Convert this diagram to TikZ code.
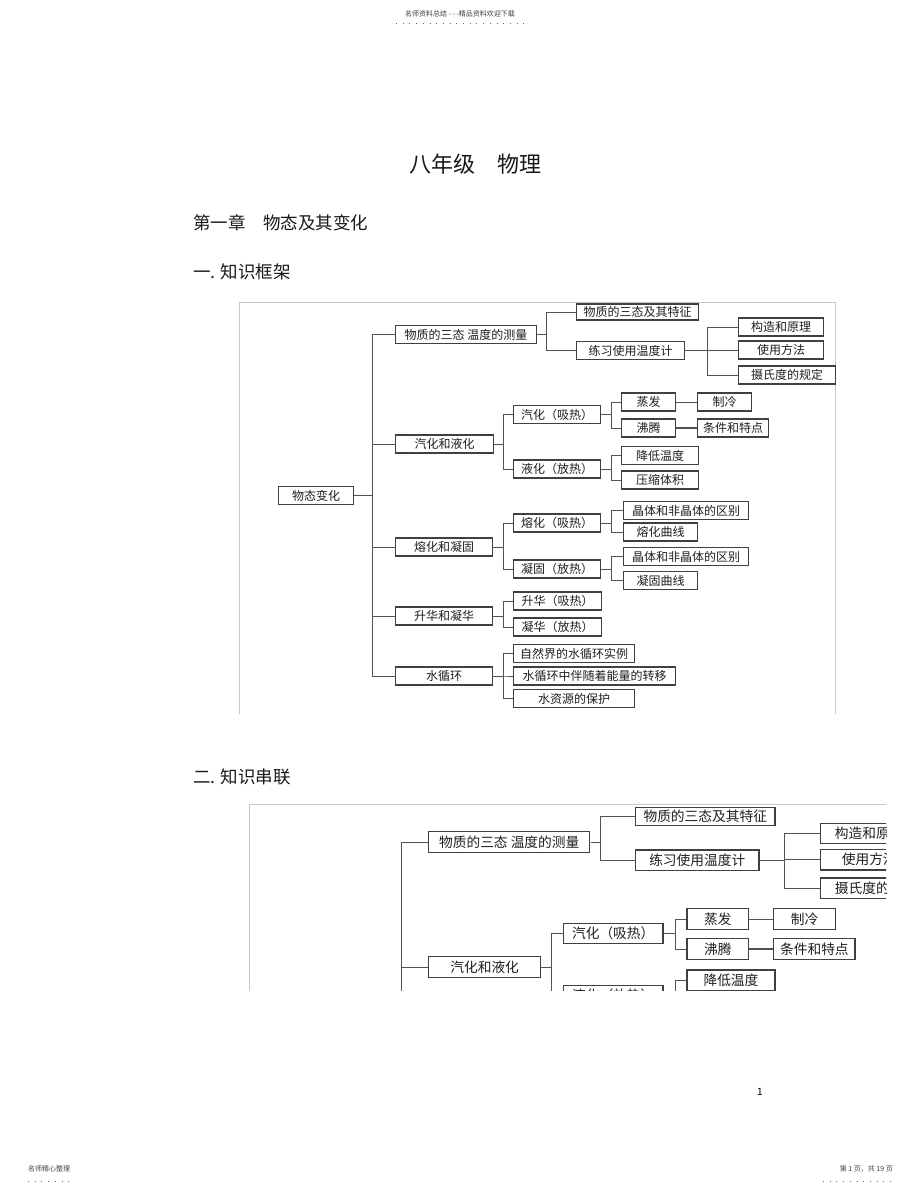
\documentclass[tikz,border=0pt]{standalone}
\usepackage{fontspec}
\setmainfont{Noto Sans CJK SC}
\usetikzlibrary{calc}
\definecolor{boxline}{gray}{0.25}
\definecolor{conn}{gray}{0.32}
\definecolor{framec}{gray}{0.78}
\definecolor{txt}{gray}{0.12}
\tikzset{
  bx/.style={draw=boxline, line width=1.15pt, anchor=west, inner sep=0pt,
    minimum height=18, text=txt, font=\fontsize{12}{12}\selectfont},
  ln/.style={draw=conn, line width=0.9pt},
  framel/.style={draw=framec, line width=0.8pt},
  hd/.style={anchor=west, inner sep=0pt, text=black!90},
  small/.style={inner sep=0pt, text=black!75, font=\fontsize{7}{7}\selectfont},
  dots/.style={draw=black!60, line width=0.7pt, dash pattern=on 0.7pt off 6pt}
}
% upper part of the chart (also shown, enlarged, in the second figure)
\newcommand\treeupper[1]{%
  \draw[framel] (239,714) -- (239,302) -- (835,302) -- (835,714);
  \node[bx, minimum width=141] (#1a1) at (395,334.5) {物质的三态\ 温度的测量};
  \node[bx, minimum width=98]  (#1a2) at (395,444) {汽化和液化};
  \node[bx, minimum width=122, minimum height=16] (#1b1) at (576,312) {物质的三态及其特征};
  \node[bx, minimum width=108] (#1b2) at (576,350.5) {练习使用温度计};
  \node[bx, minimum width=85]  (#1c1) at (738,327) {构造和原理};
  \node[bx, minimum width=85]  (#1c2) at (738,350) {使用方法};
  \node[bx, minimum width=97]  (#1c3) at (738,375) {摄氏度的规定};
  \node[bx, minimum width=87]  (#1d1) at (513,414.5) {汽化（吸热）};
  \node[bx, minimum width=87]  (#1d2) at (513,469) {液化（放热）};
  \node[bx, minimum width=54]  (#1e1) at (621,402) {蒸发};
  \node[bx, minimum width=54]  (#1e2) at (621,428) {沸腾};
  \node[bx, minimum width=54]  (#1f1) at (697,402) {制冷};
  \node[bx, minimum width=71]  (#1f2) at (697,428) {条件和特点};
  \node[bx, minimum width=77]  (#1e3) at (621,455.5) {降低温度};
  \coordinate (#1rt) at (353,495.5);
  \coordinate (#1t0) at (372,0);
  \coordinate (#1t1) at (546,0);
  \coordinate (#1t2) at (707,0);
  \coordinate (#1t3) at (503,0);
  \coordinate (#1t4) at (611,0);
  \foreach \c in {a1,a2}
    \draw[ln] (#1rt) -- (#1rt -| #1t0) |- (#1\c.west);
  \foreach \c in {b1,b2}
    \draw[ln] (#1a1.east) -- (#1a1.east -| #1t1) |- (#1\c.west);
  \foreach \c in {c1,c2,c3}
    \draw[ln] (#1b2.east) -- (#1b2.east -| #1t2) |- (#1\c.west);
  \foreach \c in {d1,d2}
    \draw[ln] (#1a2.east) -- (#1a2.east -| #1t3) |- (#1\c.west);
  \foreach \c in {e1,e2}
    \draw[ln] (#1d1.east) -- (#1d1.east -| #1t4) |- (#1\c.west);
  \draw[ln] (#1d2.east) -- (#1d2.east -| #1t4) |- (#1e3.west);
  \draw[ln] (#1e1.east) -- (#1f1.west);
  \draw[ln, line width=1.3pt] (#1e2.east) -- (#1f2.west);
}
% lower part of the chart (first figure only)
\newcommand\treelower[1]{%
  \node[bx, minimum width=75]  (#1root) at (278,495.5) {物态变化};
  \node[bx, minimum width=97]  (#1a3) at (395,547) {熔化和凝固};
  \node[bx, minimum width=97]  (#1a4) at (395,616) {升华和凝华};
  \node[bx, minimum width=97]  (#1a5) at (395,676) {水循环};
  \node[bx, minimum width=77]  (#1e4) at (621,480) {压缩体积};
  \node[bx, minimum width=87]  (#1d3) at (513,523) {熔化（吸热）};
  \node[bx, minimum width=87]  (#1d4) at (513,569) {凝固（放热）};
  \node[bx, minimum width=125] (#1g1) at (623,510.5) {晶体和非晶体的区别};
  \node[bx, minimum width=74]  (#1g2) at (623,532) {熔化曲线};
  \node[bx, minimum width=125] (#1g3) at (623,556.5) {晶体和非晶体的区别};
  \node[bx, minimum width=74]  (#1g4) at (623,580.5) {凝固曲线};
  \node[bx, minimum width=88]  (#1d5) at (513,601) {升华（吸热）};
  \node[bx, minimum width=88]  (#1d6) at (513,627) {凝华（放热）};
  \node[bx, minimum width=121] (#1d7) at (513,653.5) {自然界的水循环实例};
  \node[bx, minimum width=162] (#1d8) at (513,676) {水循环中伴随着能量的转移};
  \node[bx, minimum width=121] (#1d9) at (513,698.5) {水资源的保护};
  \draw[ln] (#1root.east) -- (#1rt);
  \foreach \c in {a3,a4,a5}
    \draw[ln] (#1root.east) -- (#1root.east -| #1t0) |- (#1\c.west);
  \draw[ln] (#1d2.east) -- (#1d2.east -| #1t4) |- (#1e4.west);
  \foreach \c in {d3,d4}
    \draw[ln] (#1a3.east) -- (#1a3.east -| #1t3) |- (#1\c.west);
  \foreach \c in {d5,d6}
    \draw[ln] (#1a4.east) -- (#1a4.east -| #1t3) |- (#1\c.west);
  \foreach \c in {d7,d8,d9}
    \draw[ln] (#1a5.east) -- (#1a5.east -| #1t3) |- (#1\c.west);
  \foreach \c in {g1,g2}
    \draw[ln] (#1d3.east) -- (#1d3.east -| #1t4) |- (#1\c.west);
  \foreach \c in {g3,g4}
    \draw[ln] (#1d4.east) -- (#1d4.east -| #1t4) |- (#1\c.west);
}
\begin{document}
\begin{tikzpicture}[x=1pt,y=-1pt]
  \useasboundingbox[fill=white] (0,0) rectangle (920,1192);
  % page header / footer
  \node[small] (hdr) at (460,14) {名师资料总结 - - -精品资料欢迎下载};
  \coordinate (hdrA) at (396,23);
  \coordinate (hdrB) at (524,23);
  \draw[dots] (hdrA) -- (hdrB);
  \node[small, anchor=west] (ftl) at (28,1169) {名师精心整理};
  \coordinate (ftlA) at (28,1181);
  \coordinate (ftlB) at (72,1181);
  \draw[dots] (ftlA) -- (ftlB);
  \node[small, anchor=east] (ftr) at (893,1169) {第 1 页，共 19 页};
  \coordinate (ftrA) at (823,1181);
  \coordinate (ftrB) at (894,1181);
  \draw[dots] (ftrA) -- (ftrB);
  \node[inner sep=0pt, font=\fontsize{10}{10}\selectfont] (pgno) at (760,1092) {1};
  % headings
  \node[inner sep=0pt, text=black!90, font=\fontsize{22}{22}\selectfont] (title) at (475.5,164) {八年级　物理};
  \node[hd, font=\fontsize{17.5}{17.5}\selectfont] (ch1) at (193,223) {第一章　物态及其变化};
  \node[hd, font=\fontsize{17.5}{17.5}\selectfont] (s1) at (193,272) {一. 知识框架};
  \node[hd, font=\fontsize{17.5}{17.5}\selectfont] (s2) at (193,777) {二. 知识串联};
  % diagram 1
  \treeupper{p}
  \treelower{p}
  % diagram 2: the same chart enlarged and cropped
  \begin{scope}
    \clip (0,0) rectangle (886,990);
    \begin{scope}[shift={(-23.5,459.7)}, scale=1.143, transform shape]
      \treeupper{q}
    \end{scope}
  \end{scope}
\end{tikzpicture}
\end{document}
